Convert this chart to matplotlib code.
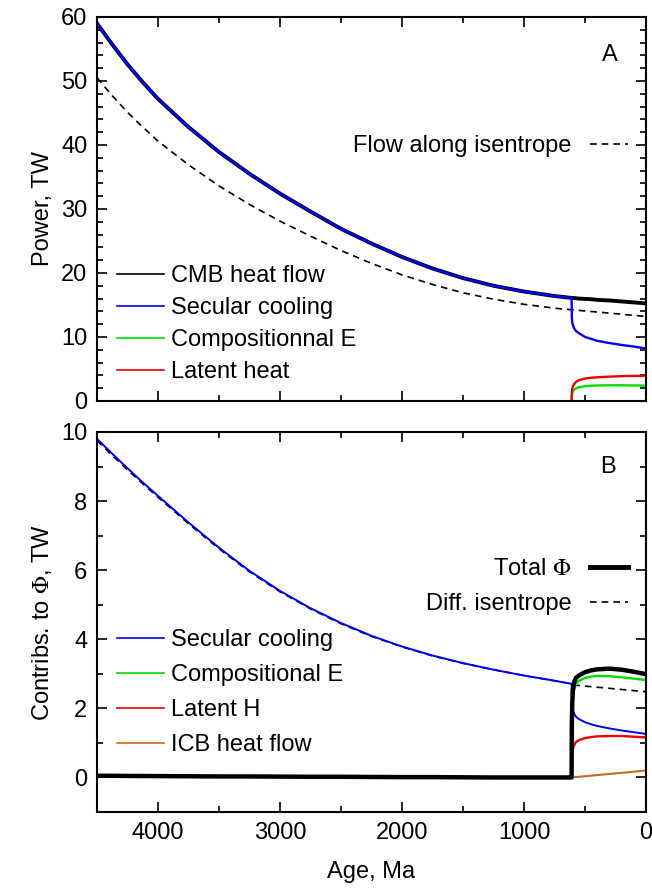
import matplotlib
matplotlib.use("Agg")
import matplotlib.pyplot as plt
from matplotlib.lines import Line2D
from matplotlib.ticker import MultipleLocator

plt.rcParams['font.family'] = ['Liberation Sans', 'DejaVu Sans']
plt.rcParams['mathtext.fontset'] = 'stix'
plt.rcParams['font.size'] = 17

# ages (Ma) before inner core nucleation
age_pre = [4500, 4375, 4250, 4125, 4000, 3750, 3500, 3250, 3000, 2750, 2500, 2250,
           2000, 1750, 1500, 1250, 1000, 750, 610]
# ages (Ma) after inner core nucleation
age_post = [610, 608, 605, 600, 590, 575, 550, 500, 450, 400, 300, 200, 100, 0]

# panel A: power, TW
qcmb_pre = [59.0, 55.7, 52.6, 49.8, 47.2, 42.8, 38.9, 35.5, 32.4, 29.6, 26.9, 24.6,
            22.5, 20.7, 19.2, 18.0, 17.1, 16.4, 16.1]
qcmb_post = [16.1, 16.1, 16.1, 16.1, 16.08, 16.05, 16.0, 15.95, 15.9, 15.8,
             15.7, 15.55, 15.4, 15.25]
sec_post = [16.1, 13.2, 12.3, 11.9, 11.4, 10.95, 10.6, 10.0, 9.7, 9.4,
            9.05, 8.75, 8.5, 8.2]
comp_post = [0.0, 0.8, 1.2, 1.5, 1.75, 1.95, 2.15, 2.3, 2.38, 2.42,
             2.45, 2.45, 2.42, 2.4]
lat_post = [0.0, 1.2, 1.8, 2.2, 2.6, 2.95, 3.25, 3.5, 3.62, 3.7,
            3.8, 3.87, 3.92, 3.95]
isen_pre = [50.5, 47.7, 45.1, 42.8, 40.6, 36.9, 33.6, 30.7, 28.1, 25.75, 23.5, 21.5,
            19.7, 18.2, 16.9, 15.9, 15.1, 14.5, 14.25]
age_isen_post = [610, 400, 200, 0]
isen_post = [14.25, 13.9, 13.55, 13.2]

# panel B: contributions to Phi, TW
phi_sec_pre = [9.8, 9.37, 8.95, 8.54, 8.15, 7.38, 6.65, 5.98, 5.4, 4.9, 4.47, 4.1,
               3.79, 3.53, 3.31, 3.12, 2.95, 2.8, 2.71]
phi_sec_post = [2.71, 2.3, 2.05, 1.95, 1.85, 1.76, 1.69, 1.6, 1.54, 1.49,
                1.42, 1.36, 1.31, 1.26]
phi_comp_post = [0.0, 1.4, 2.0, 2.35, 2.55, 2.7, 2.8, 2.88, 2.92, 2.94,
                 2.93, 2.9, 2.86, 2.82]
phi_lat_post = [0.0, 0.5, 0.7, 0.82, 0.93, 1.02, 1.08, 1.14, 1.17, 1.19,
                1.2, 1.2, 1.18, 1.16]
age_icb = [610, 0]
phi_icb = [0.0, 0.2]
phi_tot_pre = [0.05, 0.048, 0.045, 0.042, 0.04, 0.035, 0.03, 0.03, 0.025, 0.02, 0.02, 0.015,
               0.01, 0.01, 0.005, 0.0, 0.0, 0.0, 0.0]
phi_tot_post = [0.0, 1.5, 2.1, 2.5, 2.75, 2.88, 2.95, 3.05, 3.1, 3.13,
                3.15, 3.12, 3.06, 2.99]
phi_isen_pre = [9.75, 9.32, 8.905, 8.5, 8.11, 7.345, 6.62, 5.95, 5.375, 4.88, 4.45, 4.085,
                3.78, 3.52, 3.305, 3.12, 2.95, 2.8, 2.71]
age_phi_isen_post = [610, 300, 0]
phi_isen_post = [2.68, 2.58, 2.48]

blue = '#0000ee'
green = '#00dd00'
red = '#ee0000'
orange = '#cc6a1a'
dash = (0, (4, 3))

fig = plt.figure(figsize=(6.52, 8.94), dpi=100)
ax1 = fig.add_axes([0.1488, 0.5515, 0.842, 0.4295])
ax2 = fig.add_axes([0.1488, 0.0917, 0.842, 0.4251])

# --- panel A
ax1.plot(age_pre + age_post, qcmb_pre + qcmb_post, color='black', lw=2.8)
ax1.plot(age_pre + age_isen_post, isen_pre + isen_post, color='black', lw=1.2, ls=dash)
ax1.plot(age_pre + age_post, qcmb_pre + sec_post, color=blue, lw=1.7)
ax1.plot(age_post, comp_post, color=green, lw=1.7)
ax1.plot(age_post, lat_post, color=red, lw=1.7)

h1 = [Line2D([], [], color='black', lw=1.2),
      Line2D([], [], color=blue, lw=1.2),
      Line2D([], [], color=green, lw=1.2),
      Line2D([], [], color=red, lw=1.2)]
leg1 = ax1.legend(h1, ['CMB heat flow', 'Secular cooling', 'Compositionnal E', 'Latent heat'],
                  loc='center left', bbox_to_anchor=(0.036, 0.2), frameon=False,
                  handlelength=2.0, handletextpad=0.3, labelspacing=0.42,
                  borderpad=0, borderaxespad=0)
ax1.add_artist(leg1)
ax1.legend([Line2D([], [], color='black', lw=1.2, ls=dash)], ['Flow along isentrope'],
           loc='center right', bbox_to_anchor=(0.967, 0.664), frameon=False,
           markerfirst=False, handlelength=1.6, handletextpad=0.8,
           borderpad=0, borderaxespad=0)
ax1.text(0.934, 0.90, 'A', transform=ax1.transAxes, ha='center', va='center')

ax1.set_xlim(4500, 0)
ax1.set_ylim(0, 60)
ax1.yaxis.set_major_locator(MultipleLocator(10))
ax1.yaxis.set_minor_locator(MultipleLocator(2))
ax1.set_ylabel('Power, TW')
ax1.tick_params(labelbottom=False)

# --- panel B
ax2.plot(age_pre + age_phi_isen_post, phi_isen_pre + phi_isen_post, color='black', lw=1.2, ls=dash)
ax2.plot(age_pre + age_post, phi_sec_pre + phi_sec_post, color=blue, lw=1.4)
ax2.plot(age_post, phi_comp_post, color=green, lw=1.7)
ax2.plot(age_post, phi_lat_post, color=red, lw=1.7)
ax2.plot(age_icb, phi_icb, color=orange, lw=1.5)
ax2.plot(age_pre + age_post, phi_tot_pre + phi_tot_post, color='black', lw=3.2)

h2 = [Line2D([], [], color=blue, lw=1.2),
      Line2D([], [], color=green, lw=1.2),
      Line2D([], [], color=red, lw=1.2),
      Line2D([], [], color=orange, lw=1.2)]
leg2 = ax2.legend(h2, ['Secular cooling', 'Compositional E', 'Latent H', 'ICB heat flow'],
                  loc='center left', bbox_to_anchor=(0.036, 0.315), frameon=False,
                  handlelength=2.0, handletextpad=0.3, labelspacing=0.55,
                  borderpad=0, borderaxespad=0)
ax2.add_artist(leg2)
ax2.legend([Line2D([], [], color='black', lw=3.5),
            Line2D([], [], color='black', lw=1.2, ls=dash)],
           [r'Total $\Phi$', 'Diff. isentrope'],
           loc='center right', bbox_to_anchor=(0.967, 0.593), frameon=False,
           markerfirst=False, handlelength=1.6, handletextpad=0.8, labelspacing=0.55,
           borderpad=0, borderaxespad=0)
ax2.text(0.931, 0.908, 'B', transform=ax2.transAxes, ha='center', va='center')

ax2.set_xlim(4500, 0)
ax2.set_ylim(-1, 10)
ax2.yaxis.set_major_locator(MultipleLocator(2))
ax2.yaxis.set_minor_locator(MultipleLocator(1))
ax2.set_ylabel(r'Contribs. to $\Phi$, TW')
ax2.set_xlabel('Age, Ma')
ax2.xaxis.set_label_coords(0.5, -0.128)

for ax in (ax1, ax2):
    ax.xaxis.set_major_locator(MultipleLocator(1000))
    ax.xaxis.set_minor_locator(MultipleLocator(500))
    ax.tick_params(which='both', direction='in', top=True, right=True, width=1.2)
    ax.tick_params(which='major', length=7, pad=7)
    ax.tick_params(which='minor', length=4)
    for s in ax.spines.values():
        s.set_linewidth(1.5)
    ax.yaxis.set_label_coords(-0.078, 0.5)

plt.savefig('out.png', dpi=100)
